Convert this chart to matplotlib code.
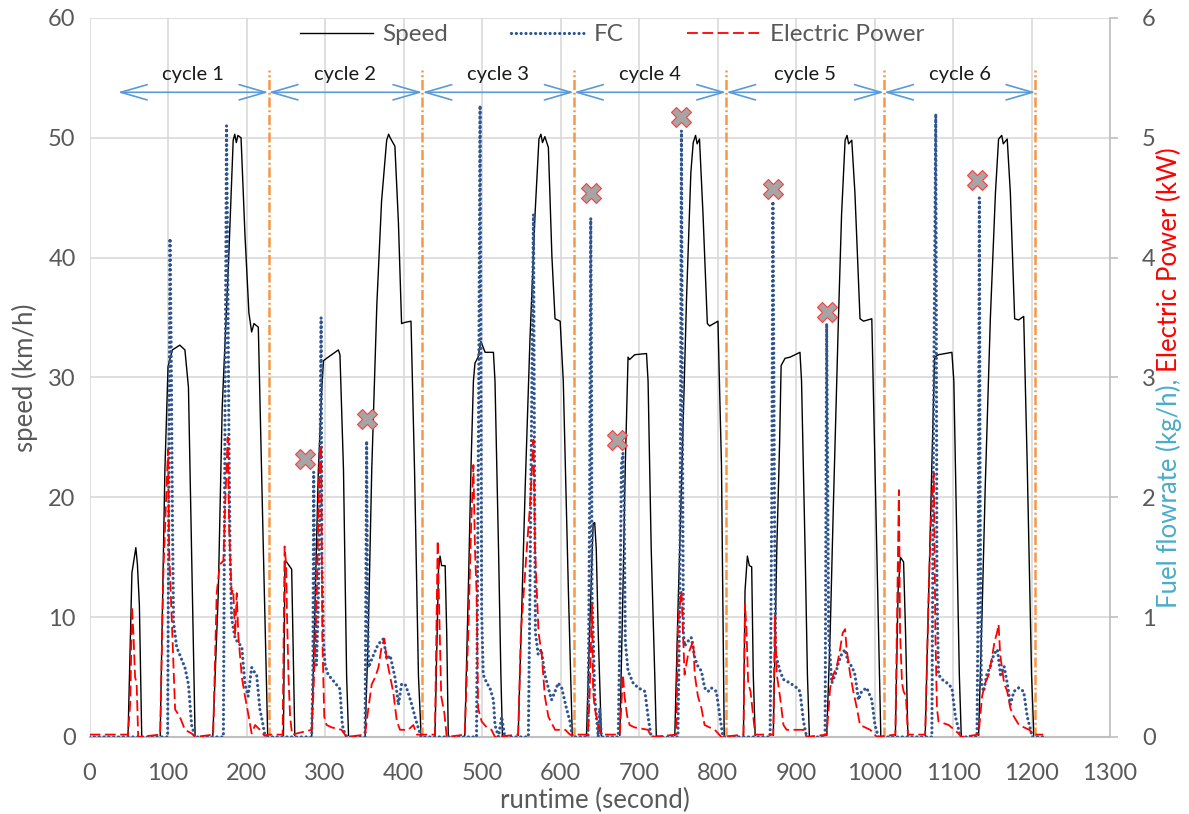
import matplotlib
matplotlib.use("Agg")
import matplotlib.pyplot as plt
import numpy as np

plt.rcParams['font.family'] = ['Lato', 'DejaVu Sans']

# speed (km/h), left axis
speed_t = [0, 49, 54, 59, 61, 63.5, 66.5, 90, 96, 100, 105.5, 115, 121.5, 126, 134.5,
           157, 164, 169, 177, 183, 185, 187, 189, 193, 198, 203, 206.5, 209.5, 215, 221.5, 227,
           247, 249, 251, 257.5, 259.5, 261.5,
           283, 287.5, 291.5, 296, 298, 302, 317, 319, 323.5, 327.5, 330,
           351, 355, 359.5, 366, 372, 378.5, 381, 383, 389, 393.5, 397.5, 402, 409.5, 414, 419, 422.5,
           440, 444.5, 446.5, 448.5, 453, 455, 457,
           478, 482.5, 486, 489, 491, 495, 498.5, 504, 514.5, 516.5, 521, 524, 526,
           546, 550.5, 555, 561, 567.5, 572.5, 575, 577, 580, 584.5, 589, 593, 599.5, 603.5, 610, 615,
           633, 637, 641.5, 643.5, 645.5, 648, 652,
           675.5, 679.5, 682.5, 686, 688, 694.5, 709.5, 711.5, 715.5, 720, 722,
           745.5, 749.5, 754, 760.5, 766, 769, 772, 774, 777, 781.5, 787, 790, 800.5, 805, 808.5,
           833, 835, 838, 840.5, 843.5, 845.5, 848,
           871, 875.5, 879, 881, 886, 892.5, 905, 907, 911.5, 914.5, 917,
           939, 943.5, 947.5, 954, 958, 962.5, 965, 967, 971, 975, 981.5, 986, 996.5, 1000.5, 1005, 1008,
           1026.5, 1030, 1033, 1037, 1039.5, 1042.5,
           1064.5, 1069, 1073, 1076.5, 1081.5, 1098.5, 1101, 1105, 1108, 1110.5,
           1132.5, 1137, 1141, 1147.5, 1154, 1158, 1162, 1164, 1169, 1173, 1178.5, 1183.5, 1190, 1194.5, 1200, 1203,
           1215]
speed_v = [0, 0, 13.7, 15.8, 14.4, 11, 0, 0, 22.3, 30.9, 32.3, 32.7, 32.3, 29.2, 0,
           0, 12, 27.5, 39.5, 49.8, 50.3, 49.6, 50.2, 50, 41.9, 35.4, 33.8, 34.5, 34.2, 15.4, 0,
           0, 14.7, 14.6, 14.0, 6.8, 0,
           0, 12, 22.3, 29.2, 31.4, 31.6, 32.3, 31.9, 22.3, 5.1, 0,
           0, 8.5, 22.3, 36.1, 44.7, 49.8, 50.3, 50, 49.3, 42.9, 34.5, 34.6, 34.7, 22.3, 5.1, 0,
           0, 13.9, 15.1, 14.3, 14.3, 8.7, 0,
           0, 12.2, 22.7, 29.7, 31.2, 31.7, 33, 32.1, 32.1, 29.7, 15.7, 5.2, 0,
           0, 10.4, 20.9, 33.1, 43.6, 49.9, 50.3, 49.6, 50.1, 49.2, 40.1, 34.9, 34.7, 29.7, 12.2, 0,
           0, 8.7, 17.8, 17.9, 15.7, 8.7, 0,
           0, 12.2, 22.7, 31.7, 31.5, 31.9, 32, 29.7, 15.7, 5.2, 0,
           0, 10.4, 20.9, 36.6, 47.1, 49.6, 50.2, 49.5, 49.9, 43.6, 34.5, 34.3, 34.7, 22.7, 0,
           0, 12.2, 15.1, 14.3, 14.2, 5.2, 0,
           0, 15.7, 24.4, 31, 31.6, 31.7, 32.1, 29.7, 15.7, 5.2, 0,
           0, 8.7, 19.2, 34.9, 43.6, 49.8, 50.2, 49.5, 49.8, 45.4, 34.9, 34.7, 34.9, 22.7, 8.7, 0,
           0, 12.2, 15, 14.6, 8.7, 0,
           0, 12.2, 22.7, 31.7, 31.9, 32.1, 29.7, 15.7, 5.2, 0,
           0, 10.4, 20.9, 34.9, 45.4, 49.9, 50.2, 49.5, 49.9, 45.4, 34.9, 34.8, 35.1, 22.7, 5.2, 0,
           0]

# fuel flowrate (kg/h), right axis
fc_t = [0, 99.5, 102.5, 104, 105.5, 107, 111, 121.5, 126, 130, 134.5,
        170.5, 174.5, 176, 177.5, 179, 181, 185.5, 194, 198, 202, 206.5, 213, 217, 219, 223, 227,
        283, 284.5, 285.5, 287, 289, 291, 293, 295, 296, 298, 300, 304, 313, 319, 322, 325, 328,
        351, 353, 354, 355.5, 359.5, 366, 370, 374.5, 378.5, 383, 389, 393.5, 397.5, 402, 406, 410.5, 414.5, 419, 422.5,
        493, 495.5, 497.5, 498.5, 499.5, 501.5, 506, 510, 514.5, 516.5, 521, 525, 529,
        559, 561, 563.5, 565.5, 567, 568, 571.5, 575.5, 580, 584.5, 588.5, 593, 597, 601.5, 607.5, 612, 615,
        635, 637, 638.5, 639.5, 640, 641.5, 643.5, 648, 650, 652,
        673.5, 675.5, 677.5, 679.5, 681, 682.5, 686, 692.5, 699, 707.5, 711.5, 715.5,
        749.5, 752, 754, 755.5, 756.5, 758, 762.5, 766.5, 771, 775, 779.5, 783.5, 788, 792, 798.5, 803, 807,
        867, 869, 870.5, 871.5, 872.5, 874, 879.5, 884, 892.5, 901, 905, 909.5, 913.5,
        937, 939, 940.5, 941.5, 945.5, 950, 954, 958, 962.5, 966.5, 971, 975, 979.5, 983.5, 990, 996.5, 1000.5, 1005,
        1073, 1075.5, 1078, 1079.5, 1081.5, 1086, 1092.5, 1098.5, 1103, 1109.5,
        1130.5, 1132, 1133.5, 1134.5, 1136, 1139, 1143, 1147.5, 1152, 1156.5, 1160.5, 1165, 1169, 1173, 1177.5,
        1183.5, 1190, 1194.5, 1201, 1215]
fc_v = [0, 0, 4.16, 3.26, 1.9, 0.96, 0.75, 0.58, 0.44, 0.1, 0,
        0, 5.1, 3.95, 2.57, 1.54, 0.99, 0.82, 0.75, 0.44, 0.34, 0.58, 0.51, 0.23, 0.17, 0.03, 0,
        0, 0.51, 2.21, 1.2, 0.6, 1.0, 1.8, 3.5, 1.5, 0.8, 0.6, 0.52, 0.45, 0.4, 0.1, 0.03, 0,
        0, 2.47, 1.2, 0.58, 0.65, 0.75, 0.79, 0.82, 0.65, 0.68, 0.5, 0.27, 0.44, 0.44, 0.37, 0.27, 0.17, 0.07, 0,
        0, 2.6, 5.27, 3.3, 1.04, 0.52, 0.45, 0.41, 0.31, 0.1, 0, 0.17, 0,
        0, 1.22, 2.96, 4.36, 2.0, 0.87, 0.69, 0.73, 0.52, 0.41, 0.31, 0.38, 0.45, 0.41, 0.24, 0.13, 0,
        0, 1.92, 4.33, 2.97, 1.22, 0.87, 0.34, 0, 0.24, 0,
        0, 0.87, 2.27, 2.37, 1.92, 0.8, 0.55, 0.45, 0.41, 0.38, 0.17, 0,
        0, 1.22, 5.06, 2.27, 0.87, 0.76, 0.8, 0.83, 0.66, 0.59, 0.55, 0.41, 0.38, 0.41, 0.38, 0.17, 0,
        0, 1.92, 4.47, 3.31, 1.92, 0.69, 0.55, 0.48, 0.45, 0.41, 0.38, 0.13, 0,
        0, 3.45, 1.92, 0.87, 0.45, 0.52, 0.62, 0.69, 0.73, 0.62, 0.59, 0.52, 0.31, 0.38, 0.41, 0.31, 0.1, 0,
        0, 2.97, 5.2, 1.22, 0.52, 0.48, 0.45, 0.41, 0.17, 0,
        0, 1.22, 4.5, 1.92, 0.45, 0.38, 0.52, 0.59, 0.69, 0.73, 0.52, 0.59, 0.45, 0.27, 0.38,
        0.41, 0.38, 0.17, 0, 0]

# electric power (kW), right axis
ep_t = [0, 49, 52, 54, 56, 58, 60, 62,
        90, 94, 97, 100, 101.5, 103.5, 105.5, 109, 115, 121.5, 130, 134.5,
        157.5, 162, 166, 170.5, 172.5, 176, 178, 181, 183, 185.5, 187.5, 189.5, 194, 198, 202, 206.5, 211, 217, 223, 227,
        246, 248.5, 250.5, 251.5, 253.5, 255.5, 258,
        283, 285, 287, 289.5, 291.5, 293.5, 295, 296.5, 299, 302, 308.5, 321, 327.5,
        351, 355, 359.5, 364, 368, 372, 375.5, 378.5, 383, 387, 391.5, 395.5, 406, 412.5, 417,
        440, 443.5, 445.5, 448, 452, 455,
        478, 482.5, 486, 489, 491, 493, 495, 499.5, 506, 512, 516.5,
        546, 549.5, 552.5, 557, 561, 565.5, 567.5, 572, 576, 580, 584.5, 593, 606, 612,
        635, 637, 640, 641.5, 643.5, 648, 652,
        675.5, 679.5, 681.5, 685, 688, 694.5, 711.5, 715.5,
        747.5, 749.5, 754, 756, 758, 762.5, 766.5, 769, 771, 775, 779.5, 783.5, 796.5, 805,
        833, 835, 837, 839, 842, 845.5, 848,
        871, 873, 875.5, 879.5, 884, 888, 909.5, 913.5,
        939, 943.5, 947.5, 952, 956, 959.5, 962.5, 964.5, 969, 973, 977.5, 981.5, 994.5, 1003,
        1026.5, 1031, 1032.5, 1035, 1037, 1040, 1042.5,
        1064.5, 1069, 1072.5, 1075.5, 1077.5, 1079.5, 1081.5, 1094.5, 1107, 1110.5,
        1132.5, 1137, 1141, 1145.5, 1149.5, 1153, 1156, 1158, 1160, 1165, 1169, 1173, 1177.5, 1184, 1197, 1203,
        1215]
ep_v = [0.02, 0.02, 0.3, 1.09, 0.85, 0.5, 0.45, 0,
        0.02, 1.37, 1.89, 2.4, 1.54, 1.2, 0.85, 0.23, 0.17, 0.06, 0.03, 0,
        0.02, 1.2, 1.44, 1.47, 1.89, 2.5, 1.7, 1.2, 1.23, 0.85, 1.2, 0.85, 0.5, 0.34, 0.2, 0.03, 0.1, 0.06, 0.01, 0.02,
        0.02, 1.59, 1.43, 1.03, 0.5, 0.17, 0.02,
        0.06, 0.34, 0.68, 1.2, 1.89, 2.4, 2.44, 0.85, 0.17, 0.1, 0.08, 0.06, 0,
        0.02, 0.23, 0.44, 0.5, 0.58, 0.75, 0.82, 0.65, 0.5, 0.37, 0.13, 0.06, 0.06, 0.1, 0.02,
        0.02, 1.64, 1.04, 0.34, 0.2, 0,
        0.02, 0.87, 1.74, 2.27, 1.57, 1.22, 0.24, 0.13, 0.08, 0.06, 0,
        0.02, 0.87, 1.15, 1.57, 1.92, 2.48, 1.57, 0.87, 0.69, 0.34, 0.17, 0.06, 0.06, 0.02,
        0.02, 0.34, 1.11, 0.38, 0.24, 0.1, 0.02,
        0.02, 0.52, 0.34, 0.17, 0.1, 0.08, 0.06, 0,
        0.02, 0.94, 1.22, 0.87, 0.52, 0.69, 0.76, 0.8, 0.52, 0.34, 0.24, 0.1, 0.06, 0,
        0.02, 1.11, 0.87, 0.45, 0.38, 0.17, 0.02,
        0.02, 1.01, 0.52, 0.34, 0.1, 0.06, 0.06, 0,
        0.02, 0.41, 0.52, 0.59, 0.73, 0.87, 0.9, 0.73, 0.52, 0.38, 0.24, 0.1, 0.06, 0,
        0.02, 2.06, 0.87, 0.45, 0.38, 0.34, 0.02,
        0.02, 1.22, 1.92, 2.2, 0.87, 0.24, 0.13, 0.1, 0.03, 0,
        0.02, 0.34, 0.45, 0.52, 0.66, 0.8, 0.87, 0.94, 0.69, 0.45, 0.38, 0.24, 0.17, 0.1, 0.06, 0.02,
        0.02]

# highlighted FC peaks
mark_t = [274.5, 353, 639, 672.5, 753, 870.5, 939, 1130.5]
mark_v = [2.32, 2.65, 4.54, 2.48, 5.17, 4.57, 3.55, 4.65]

# cycle boundaries (s)
cycle_edges = [36, 228, 424, 617, 811, 1012, 1205]
cycle_names = ['cycle 1', 'cycle 2', 'cycle 3', 'cycle 4', 'cycle 5', 'cycle 6']

gray = '#595959'
fig = plt.figure(figsize=(11.89, 8.14), dpi=100)
ax = fig.add_axes([0.0753, 0.0946, 0.8583, 0.8833])
ax2 = ax.twinx()

ax.set_xlim(0, 1300)
ax.set_ylim(0, 60)
ax2.set_ylim(0, 6)
ax.set_xticks(np.arange(0, 1301, 100))
ax.set_yticks(np.arange(0, 61, 10))
ax2.set_yticks(np.arange(0, 7, 1))
ax.grid(True, color='#d9d9d9', lw=1.2)
ax.set_axisbelow(True)

for s in ['left', 'top', 'right']:
    ax.spines[s].set_visible(False)
for s in ['left', 'top', 'bottom']:
    ax2.spines[s].set_visible(False)
ax.spines['bottom'].set_color('#bfbfbf')
ax.spines['bottom'].set_linewidth(1.5)
ax2.spines['right'].set_color('#bfbfbf')
ax2.spines['right'].set_linewidth(1.2)

ax.tick_params(axis='x', length=0, pad=19, labelsize=17, labelcolor=gray)
ax.tick_params(axis='y', length=0, pad=10, labelsize=17, labelcolor=gray)
ax2.tick_params(axis='y', length=6, width=1.2, color='#bfbfbf', pad=17, labelsize=17, labelcolor=gray)

l1, = ax.plot(speed_t, speed_v, color='black', lw=1.0, label='Speed')
l2, = ax2.plot(fc_t, fc_v, color='#2F5590', lw=2.3, linestyle=(0, (0.01, 1.5)),
               dash_capstyle='round', label='FC')
l3, = ax2.plot(ep_t, ep_v, color='#FF0000', lw=1.3, linestyle=(0, (6, 2.5)), label='Electric Power')
ax2.plot(mark_t, mark_v, ls='none', marker='X', ms=15, mfc='#A5A5A5', mec='#FF3B3B', mew=0.8, zorder=5)

# cycle dividers, arrows and names
for x in cycle_edges[1:]:
    ax.plot([x, x], [0, 55.7], color='#F79646', lw=1.8, linestyle=(0, (4, 1.1, 0.8, 1.1)))
for i, name in enumerate(cycle_names):
    x0, x1 = cycle_edges[i], cycle_edges[i + 1]
    ax.annotate('', xy=(x1, 53.8), xytext=(x0, 53.8),
                arrowprops=dict(arrowstyle='<->,head_length=1.9,head_width=0.55', color='#5B9BD5',
                                lw=1.2, shrinkA=0, shrinkB=0, mutation_scale=10))
    ax.text((x0 + x1) / 2, 55.3, name, ha='center', va='center', fontsize=14.5, color='#1a1a1a')

leg = ax2.legend(handles=[l1, l2, l3], loc='center', bbox_to_anchor=(0.512, 0.977), ncol=3,
                 frameon=False, fontsize=17.5, handlelength=3, columnspacing=2.6, handletextpad=0.4)
for t in leg.get_texts():
    t.set_color(gray)

fig.text(0.5, 0.017, 'runtime (second)', ha='center', va='center', fontsize=18.5, color=gray)
fig.text(0.021, 0.5363, 'speed (km/h)', ha='center', va='center', rotation=90, fontsize=18.5, color=gray)

# two-coloured right label
xb = 1177 / 1189
ta = fig.text(xb, 0, 'Fuel flowrate (kg/h),', rotation=90, rotation_mode='anchor',
              ha='left', va='baseline', fontsize=18.5, color='#4BACC6')
tb = fig.text(xb, 0, 'Electric Power (kW)', rotation=90, rotation_mode='anchor',
              ha='left', va='baseline', fontsize=18.5, color='#FF0000')
fig.canvas.draw()
r = fig.canvas.get_renderer()
H = fig.bbox.height
ha_ = ta.get_window_extent(r).height / H
hb_ = tb.get_window_extent(r).height / H
gap = 0.26 * 18.5 * 100 / 72 / H
y0 = 0.5363 - (ha_ + gap + hb_) / 2
ta.set_y(y0)
tb.set_y(y0 + ha_ + gap)

fig.savefig('out.png', dpi=100)
